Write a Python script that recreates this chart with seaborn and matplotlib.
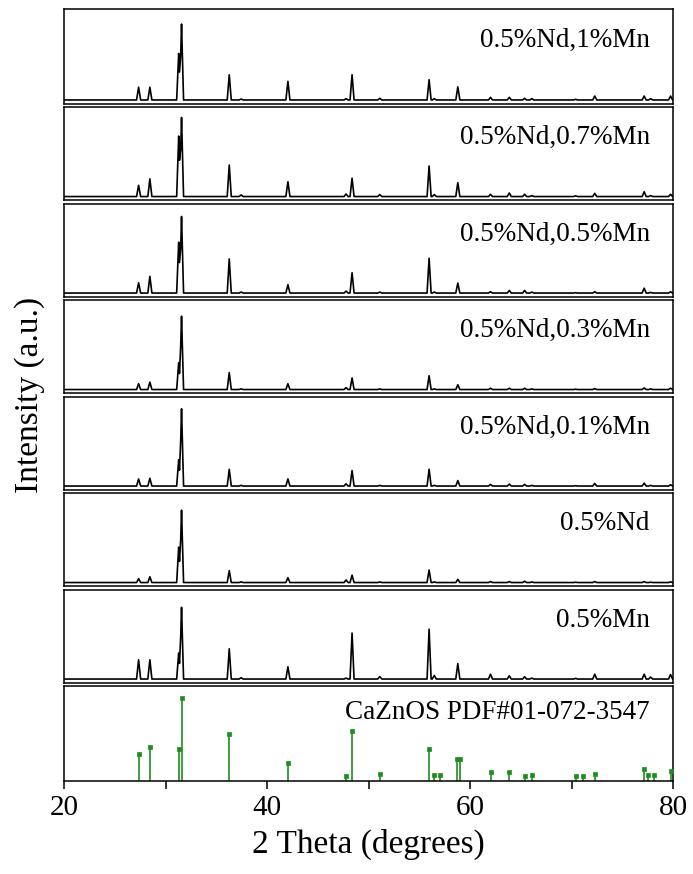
import numpy as np
import matplotlib
matplotlib.use("Agg")
import matplotlib.pyplot as plt
import seaborn as sns

# ---------------- data ----------------
# peak positions (2 theta, degrees) seen in the measured patterns
peak_pos = [27.35, 28.46, 31.30, 31.58, 36.28, 37.45, 42.06, 47.79, 48.38, 51.11,
            55.97, 56.48, 58.80, 62.02, 63.87, 65.38, 66.09, 70.40, 72.29, 77.16,
            77.80, 79.76]

sample_labels = ["0.5%Nd,1%Mn", "0.5%Nd,0.7%Mn", "0.5%Nd,0.5%Mn", "0.5%Nd,0.3%Mn",
                 "0.5%Nd,0.1%Mn", "0.5%Nd", "0.5%Mn"]

# peak heights (a.u.) for each sample, same order as peak_pos
h_nd_mn1   = [39, 39, 142, 232, 77, 3, 57, 4, 77, 5, 62, 4, 40, 8, 8, 5, 4, 2, 12, 12, 4, 12]
h_nd_mn07  = [35, 55, 188, 246, 98, 5, 46, 8, 57, 6, 95, 6, 43, 7, 11, 7, 3, 2, 10, 15, 3, 7]
h_nd_mn05  = [32, 52, 158, 238, 106, 3, 26, 6, 63, 3, 108, 3, 31, 4, 8, 8, 3, 1, 4, 15, 2, 4]
h_nd_mn03  = [18, 23, 83, 228, 53, 2, 18, 6, 36, 2, 43, 2, 15, 4, 4, 4, 2, 1, 3, 5, 2, 4]
h_nd_mn01  = [22, 24, 82, 240, 52, 2, 22, 7, 48, 2, 52, 2, 17, 5, 6, 5, 2, 1, 8, 9, 2, 4]
h_nd       = [12, 18, 110, 225, 37, 2, 15, 8, 23, 2, 39, 2, 10, 3, 3, 4, 2, 1, 3, 3, 1, 2]
h_mn05     = [60, 60, 81, 223, 94, 4, 38, 3, 143, 8, 155, 11, 48, 15, 10, 7, 3, 2, 15, 15, 6, 14]
sample_heights = [h_nd_mn1, h_nd_mn07, h_nd_mn05, h_nd_mn03, h_nd_mn01, h_nd, h_mn05]

# reference card CaZnOS PDF#01-072-3547 (position, relative intensity %)
ref_label = "CaZnOS PDF#01-072-3547"
ref_pos = [27.35, 28.46, 31.30, 31.58, 36.28, 42.06, 47.79, 48.38, 51.11, 55.97,
           56.48, 57.08, 58.74, 58.97, 62.02, 63.87, 65.38, 66.09, 70.40, 71.15,
           72.29, 77.16, 77.55, 78.14, 79.76]
ref_int = [32, 41, 39, 100, 56, 22, 6, 60, 9, 38,
           7, 7, 27, 27, 11, 11, 6, 7, 6, 6,
           8, 14, 7, 7, 12]

x_ticks = [20, 40, 60, 80]
x_minor = [30, 50, 70]

# ---------------- style ----------------
sns.set_theme(style="ticks")
plt.rcParams["font.family"] = ["Liberation Serif", "DejaVu Serif"]
plt.rcParams["text.color"] = "black"
plt.rcParams["axes.labelcolor"] = "black"
plt.rcParams["xtick.color"] = "black"
plt.rcParams["xtick.labelcolor"] = "black"

W, H = 693, 874
fig = plt.figure(figsize=(W / 100, H / 100), dpi=100)

left_px, right_px = 64, 673
top_px, bottom_px = 9, 781
n_panels = 8
step = (bottom_px - top_px) / n_panels
gap = 1.6
half_w = 0.2  # half base width of drawn peaks (deg)
line_c = "black"
green = "#1f8c1f"
spine_w = 1.1


def make_profile(pos, hts):
    # piecewise-linear trace through the read peak apexes
    xs = [20.0, 80.0]
    for p in pos:
        xs += [p - half_w, p, p + half_w]
    xs = np.array(sorted(set(x for x in xs if 20.0 <= x <= 80.0)))
    ys = np.zeros_like(xs)
    for p, h in zip(pos, hts):
        ys += np.interp(xs, [p - half_w, p, p + half_w], [0, h, 0], left=0, right=0)
    return xs, ys


axes = []
for i in range(n_panels):
    t = top_px + i * step + (gap if i > 0 else 0)
    b = top_px + (i + 1) * step - (gap if i < n_panels - 1 else 0)
    ax = fig.add_axes([left_px / W, 1 - b / H, (right_px - left_px) / W, (b - t) / H])
    axes.append(ax)

for i, ax in enumerate(axes):
    ax.set_facecolor("white")
    for s in ax.spines.values():
        s.set_visible(True)
        s.set_color("black")
        s.set_linewidth(spine_w)
    ax.set_xlim(20, 80)
    ax.set_yticks([])
    ax.set_ylabel("")
    if i < n_panels - 1:
        xs, ys = make_profile(peak_pos, sample_heights[i])
        sns.lineplot(x=xs, y=ys, ax=ax, color=line_c, linewidth=1.2,
                     estimator=None, sort=False)
        ax.set_ylim(-12, 278)
        ax.text(77.7, 0.67, sample_labels[i], transform=ax.get_xaxis_transform(),
                ha="right", va="center", fontsize=19.5, color="black")
    else:
        ax.vlines(ref_pos, 0, ref_int, color=green, linewidth=1.2)
        sns.scatterplot(x=ref_pos, y=ref_int, ax=ax, color=green, marker="s",
                        s=12, edgecolor=green, linewidth=0.5, zorder=3)
        ax.set_ylim(0, 114)
        ax.text(77.7, 0.72, ref_label, transform=ax.get_xaxis_transform(),
                ha="right", va="center", fontsize=19.5, color="black")
    if i < n_panels - 1:
        ax.set_xticks([])
        ax.set_xlabel("")
    else:
        ax.set_xticks(x_ticks)
        ax.set_xticks(x_minor, minor=True)
        ax.tick_params(axis="x", which="both", direction="out", length=6,
                       width=spine_w, color="black", labelcolor="black",
                       labelsize=21, pad=4)
        ax.set_xlabel("2 Theta (degrees)", fontsize=24, labelpad=6, color="black")

fig.text(30 / W, 1 - ((top_px + bottom_px) / 2) / H, "Intensity (a.u.)",
         rotation=90, ha="center", va="center", fontsize=24, color="black")

fig.savefig("out.png", dpi=100, facecolor="white")
